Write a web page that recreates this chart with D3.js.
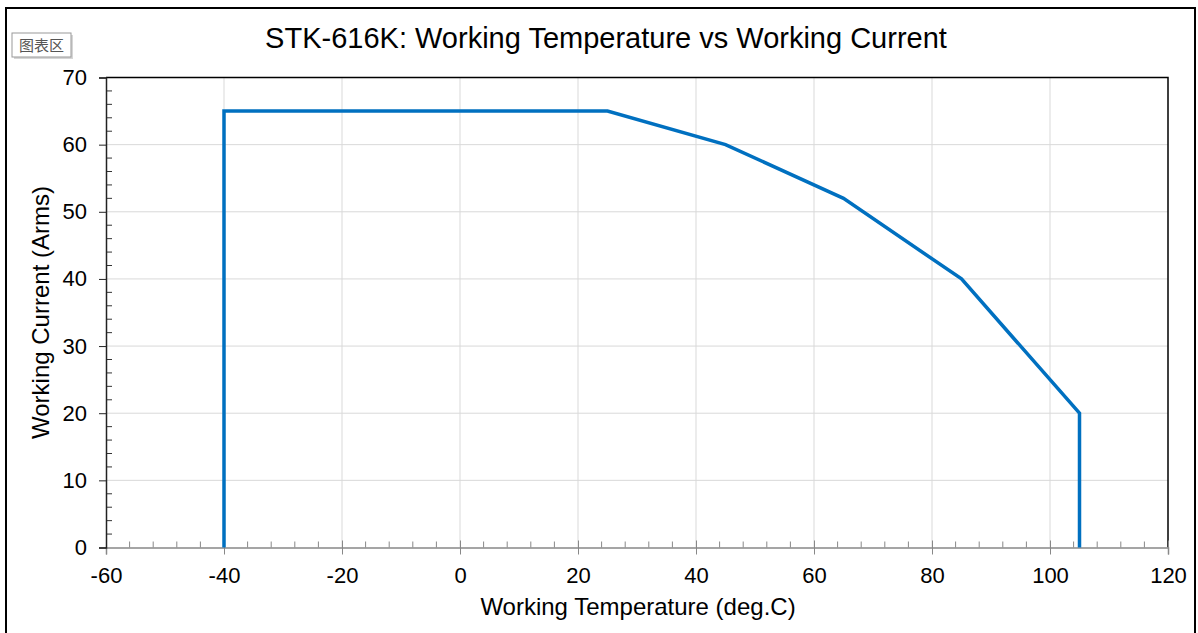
<!DOCTYPE html>
<html>
<head>
<meta charset="utf-8">
<script src="https://cdn.jsdelivr.net/npm/d3@7"></script>
<style>
  body { margin: 0; background: #fff; }
  svg { display: block; font-family: "Liberation Sans", Arial, sans-serif; }
</style>
</head>
<body>
<script>
// Derating curve points (temperature in deg.C, current in Arms)
const temperature = [-40, -40, 25, 45, 65, 85, 105, 105];
const current = [0, 65, 65, 60, 52, 40, 20, 0];

const xTicks = [-60, -40, -20, 0, 20, 40, 60, 80, 100, 120];
const yTicks = [0, 10, 20, 30, 40, 50, 60, 70];

const titleText = "STK-616K: Working Temperature vs Working Current";
const xLabel = "Working Temperature (deg.C)";
const yLabel = "Working Current (Arms)";

const width = 1198, height = 633;
const plot = { left: 106, right: 1168, top: 77.5, bottom: 547.5 };

const svg = d3.select("body").append("svg")
  .attr("width", width)
  .attr("height", height);

// outer chart frame
svg.append("rect")
  .attr("x", 6).attr("y", 8)
  .attr("width", 1189).attr("height", 640)
  .attr("fill", "#fff")
  .attr("stroke", "#000")
  .attr("stroke-width", 2);

const x = d3.scaleLinear().domain([-60, 120]).range([plot.left, plot.right]);
const y = d3.scaleLinear().domain([0, 70]).range([plot.bottom, plot.top]);

// gridlines
const grid = svg.append("g");
grid.selectAll(".vg")
  .data(xTicks.filter((d) => d > -60 && d < 120))
  .enter().append("line")
  .attr("x1", (d) => x(d)).attr("x2", (d) => x(d))
  .attr("y1", plot.top).attr("y2", plot.bottom)
  .attr("stroke", "#d9d9d9").attr("stroke-width", 1);
grid.selectAll(".hg")
  .data(yTicks.filter((d) => d > 0 && d < 70))
  .enter().append("line")
  .attr("x1", plot.left).attr("x2", plot.right)
  .attr("y1", (d) => y(d)).attr("y2", (d) => y(d))
  .attr("stroke", "#d9d9d9").attr("stroke-width", 1);

// minor ticks (inside)
const xMinor = d3.range(-60, 120.1, 4).filter((d) => d % 20 !== 0);
svg.append("g").selectAll("line")
  .data(xMinor)
  .enter().append("line")
  .attr("x1", (d) => x(d)).attr("x2", (d) => x(d))
  .attr("y1", plot.bottom).attr("y2", plot.bottom - 6)
  .attr("stroke", "#888");
const yMinor = d3.range(0, 70.1, 2).filter((d) => d % 10 !== 0);
svg.append("g").selectAll("line")
  .data(yMinor)
  .enter().append("line")
  .attr("x1", plot.left).attr("x2", plot.left + 6)
  .attr("y1", (d) => y(d)).attr("y2", (d) => y(d))
  .attr("stroke", "#333");

// top and right border of plot area
svg.append("path")
  .attr("d", `M${plot.left},${plot.top}H${plot.right}V${plot.bottom}`)
  .attr("fill", "none")
  .attr("stroke", "#000")
  .attr("stroke-width", 1.5);

// x axis
const xAxis = svg.append("g")
  .attr("transform", `translate(0,${plot.bottom})`)
  .call(d3.axisBottom(x).tickValues(xTicks).tickFormat((d) => String(d))
    .tickSize(7).tickPadding(13));
xAxis.select(".domain").attr("stroke", "#888").attr("stroke-width", 1.5);
xAxis.selectAll(".tick line").attr("stroke", "#888").attr("y1", -7);
xAxis.selectAll(".tick text")
  .attr("font-size", 22).attr("fill", "#000")
  .attr("font-family", "Liberation Sans, Arial, sans-serif");

// y axis
const yAxis = svg.append("g")
  .attr("transform", `translate(${plot.left},0)`)
  .call(d3.axisLeft(y).tickValues(yTicks).tickFormat((d) => String(d))
    .tickSize(7).tickPadding(12));
yAxis.select(".domain").attr("stroke", "#222").attr("stroke-width", 1.5);
yAxis.selectAll(".tick line").attr("stroke", "#222").attr("x2", -7).attr("x1", 0);
yAxis.selectAll(".tick text")
  .attr("font-size", 22).attr("fill", "#000")
  .attr("font-family", "Liberation Sans, Arial, sans-serif");

// curve
const pts = temperature.map((t, i) => [t, current[i]]);
svg.append("path")
  .datum(pts)
  .attr("d", d3.line().x((d) => x(d[0])).y((d) => y(d[1])))
  .attr("fill", "none")
  .attr("stroke", "#0070c0")
  .attr("stroke-width", 3.5)
  .attr("stroke-linejoin", "miter");

// titles
svg.append("text")
  .attr("x", 606).attr("y", 48)
  .attr("text-anchor", "middle")
  .attr("font-size", 29)
  .text(titleText);

svg.append("text")
  .attr("x", (plot.left + plot.right) / 2 + 1).attr("y", 615)
  .attr("text-anchor", "middle")
  .attr("font-size", 24)
  .text(xLabel);

svg.append("text")
  .attr("transform", `translate(49,${(plot.top + plot.bottom) / 2}) rotate(-90)`)
  .attr("text-anchor", "middle")
  .attr("font-size", 24)
  .text(yLabel);

// "chart area" tag
const tag = svg.append("g").attr("transform", "translate(12,33)");
tag.append("rect")
  .attr("x", 2).attr("y", 2).attr("width", 59).attr("height", 24)
  .attr("fill", "#bbb").attr("opacity", 0.6);
tag.append("rect")
  .attr("width", 59).attr("height", 24)
  .attr("fill", "#fff").attr("stroke", "#999");
tag.append("text")
  .attr("x", 29.5).attr("y", 17.5)
  .attr("text-anchor", "middle")
  .attr("font-size", 15)
  .attr("fill", "#555")
  .attr("font-family", "Noto Sans CJK SC, sans-serif")
  .text("图表区");
</script>
</body>
</html>
